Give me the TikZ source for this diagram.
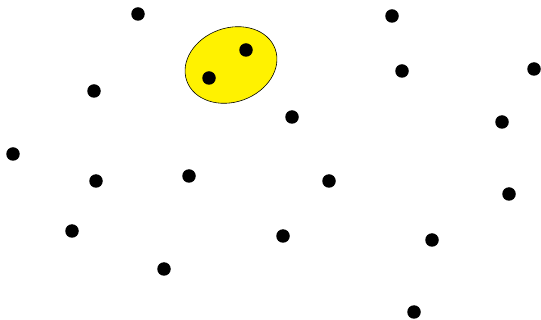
\documentclass[tikz,border=0pt]{standalone}
\usetikzlibrary{shapes.geometric}
\begin{document}
\begin{tikzpicture}[x=1pt,y=-1pt,
  dotnode/.style={circle,fill=black,inner sep=0pt,minimum size=13.5pt},
  blob/.style={ellipse,draw=black,line width=0.6pt,fill=yellow,inner sep=0pt,minimum width=94pt,minimum height=74pt}]
\useasboundingbox (0,0) rectangle (541,320);
\node[blob,rotate=20] (e) at (231,65) {};
\node[dotnode] (d1) at (138,14) {};
\node[dotnode] (d2) at (392,16) {};
\node[dotnode] (d3) at (246,50) {};
\node[dotnode] (d4) at (209,78) {};
\node[dotnode] (d5) at (402,71) {};
\node[dotnode] (d6) at (534,69) {};
\node[dotnode] (d7) at (94,91) {};
\node[dotnode] (d8) at (292,117) {};
\node[dotnode] (d9) at (502,122) {};
\node[dotnode] (d10) at (13,154) {};
\node[dotnode] (d11) at (96,181) {};
\node[dotnode] (d12) at (189,176) {};
\node[dotnode] (d13) at (329,181) {};
\node[dotnode] (d14) at (509,194) {};
\node[dotnode] (d15) at (72,231) {};
\node[dotnode] (d16) at (283,236) {};
\node[dotnode] (d17) at (432,240) {};
\node[dotnode] (d18) at (164,269) {};
\node[dotnode] (d19) at (414,312) {};
\end{tikzpicture}
\end{document}
